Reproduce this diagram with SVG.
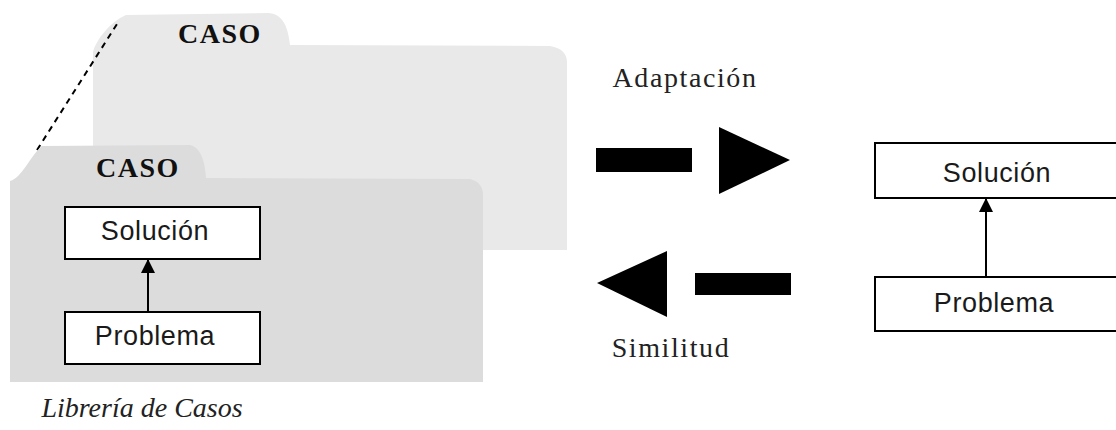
<svg xmlns="http://www.w3.org/2000/svg" width="1116" height="430" viewBox="0 0 1116 430">
  <style>
    .box { fill: #ffffff; stroke: #000000; stroke-width: 2; }
    .sans { font-family: "Liberation Sans", Arial, sans-serif; font-size: 27px; letter-spacing: 0.6px; fill: #1a1a1a; text-anchor: middle; }
    .head { font-family: "Liberation Serif", "Times New Roman", serif; font-size: 28px; letter-spacing: 1.5px; font-weight: bold; fill: #111111; text-anchor: middle; }
    .lbl { font-family: "Liberation Serif", "Times New Roman", serif; font-size: 28px; letter-spacing: 1.6px; fill: #222222; text-anchor: middle; }
    .lib { font-family: "Liberation Serif", "Times New Roman", serif; font-size: 28px; font-style: italic; fill: #222222; text-anchor: middle; }
    .link { stroke: #000000; stroke-width: 2; fill: none; }
  </style>
  <defs>
    <marker id="tri" viewBox="0 0 10 10" refX="10" refY="5" markerWidth="14" markerHeight="14" orient="auto" markerUnits="userSpaceOnUse">
      <path d="M0,0 L10,5 L0,10 Z" fill="#000000"/>
    </marker>
  </defs>

  <!-- back case folder -->
  <g id="case-back">
    <path d="M93,250 L93,52 C96,40 110,22 126,15 L268,13 C282,14 288,25 290,45 L550,46 C562,48 567,54 567,62 L567,250 Z" fill="#e9e9e9"/>
    <text class="head" x="220" y="43">CASO</text>
  </g>

  <!-- dashed guide between folders -->
  <line x1="37" y1="150" x2="117" y2="24" stroke="#000000" stroke-width="2" stroke-dasharray="6,5"/>

  <!-- front case folder -->
  <g id="case-front">
    <path d="M10,382 L10,181 C22,178 30,156 42,146 L190,145 C200,147 205,160 206,178 L470,179 C478,181 483,186 483,195 L483,382 Z" fill="#dcdcdc"/>
    <text class="head" x="138" y="177">CASO</text>
  </g>

  <g id="lib-solucion">
    <rect class="box" x="65" y="207" width="195" height="52"/>
    <text class="sans" x="155" y="240">Solución</text>
  </g>
  <g id="lib-problema">
    <rect class="box" x="65" y="312" width="195" height="52"/>
    <text class="sans" x="155" y="345">Problema</text>
  </g>

  <g id="new-solucion">
    <rect class="box" x="875" y="143" width="250" height="55"/>
    <text class="sans" x="997" y="182">Solución</text>
  </g>
  <g id="new-problema">
    <rect class="box" x="875" y="277" width="250" height="54"/>
    <text class="sans" x="994" y="312">Problema</text>
  </g>

  <text id="lib-label" class="lib" x="142" y="417">Librería de Casos</text>

  <!-- connectors -->
  <g id="connectors">
    <line class="link" x1="148" y1="312" x2="148" y2="259" marker-end="url(#tri)"/>
    <line class="link" x1="986" y1="277" x2="986" y2="198" marker-end="url(#tri)"/>
    <g id="adaptacion">
      <rect x="596" y="148" width="96" height="24" fill="#000000"/>
      <polygon points="719,127 790,160 719,194" fill="#000000"/>
      <text class="lbl" x="685" y="87">Adaptación</text>
    </g>
    <g id="similitud">
      <rect x="695" y="273" width="96" height="22" fill="#000000"/>
      <polygon points="597,283 667,251 667,317" fill="#000000"/>
      <text class="lbl" x="671" y="357">Similitud</text>
    </g>
  </g>
</svg>
